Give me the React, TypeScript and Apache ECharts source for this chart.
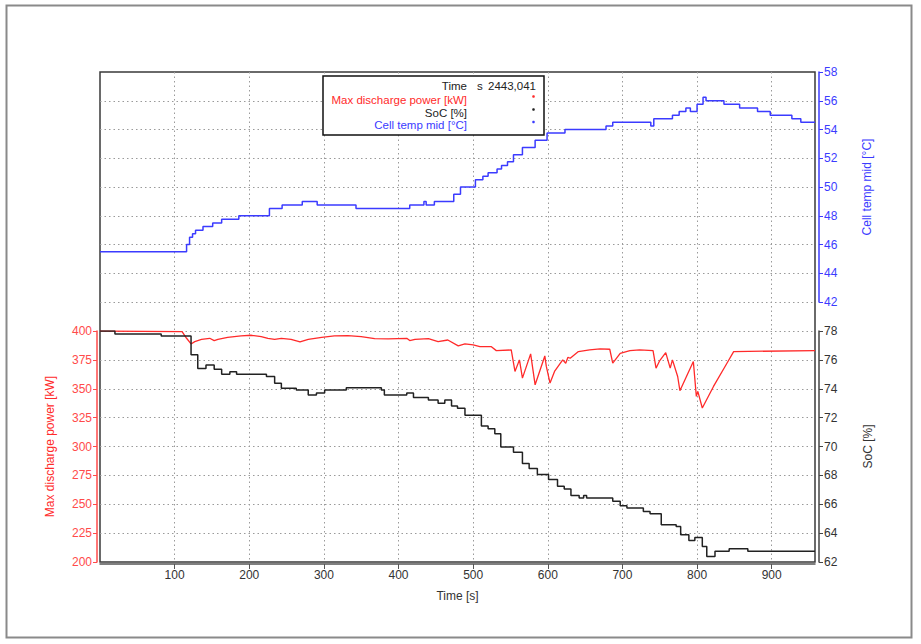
import React, { useEffect, useRef } from "react";
import * as echarts from "echarts";

// Time [s] range and ticks
const timeMin = 0;
const timeMax = 958;
const timeInterval = 100;

// Cell temp mid [°C]  (step data: value starts at t)
const tempData: [number, number][] = [
  [0, 45.5], [116, 46.0], [120, 46.5], [124, 46.75], [128, 47.0], [138, 47.25], [151, 47.5],
  [163, 47.75], [186, 48.0], [227, 48.5], [244, 48.75], [271, 49.0], [291, 48.75], [343, 48.5],
  [415, 48.75], [434, 49.0], [437, 48.75], [448, 49.0], [474, 49.5], [483, 50.0], [503, 50.5],
  [513, 50.75], [520, 51.0], [532, 51.25], [538, 51.5], [546, 51.75], [554, 52.25], [566, 52.75],
  [583, 53.25], [599, 53.75], [623, 54.0], [678, 54.25], [687, 54.5], [738, 54.25], [742, 54.75],
  [767, 55.0], [776, 55.25], [785, 55.5], [791, 55.25], [800, 55.75], [808, 56.25], [812, 56.0],
  [836, 55.75], [857, 55.5], [881, 55.25], [898, 55.0], [927, 54.75], [939, 54.5], [958, 54.5],
];

// SoC [%] (step data)
const socData: [number, number][] = [
  [0, 78.0], [20, 77.8], [82, 77.65], [122, 76.35], [131, 75.4], [142, 75.65], [153, 75.35],
  [163, 75.0], [174, 75.18], [183, 75.0], [223, 74.84], [234, 74.38], [243, 74.03], [263, 73.91],
  [279, 73.57], [290, 73.7], [301, 73.91], [330, 74.07], [377, 73.91], [381, 73.57], [411, 73.7],
  [420, 73.4], [440, 73.22], [453, 72.99], [462, 73.22], [471, 72.8], [479, 72.65], [489, 72.16],
  [511, 71.42], [520, 71.23], [529, 70.89], [537, 69.96], [554, 69.61], [566, 68.82], [575, 68.48],
  [586, 68.06], [601, 67.71], [613, 67.25], [622, 67.06], [631, 66.6], [642, 66.43], [648, 66.6],
  [652, 66.43], [687, 66.2], [697, 65.9], [706, 65.74], [728, 65.5], [737, 65.34], [752, 64.58],
  [772, 64.46], [778, 63.88], [789, 63.49], [797, 63.7], [807, 63.07], [813, 62.38], [824, 62.75],
  [843, 62.91], [868, 62.75], [958, 62.75],
];

// Max discharge power [kW]
const powerData: [number, number][] = [
  [0, 400], [110, 399.5], [116, 393.7], [122, 388.8], [127, 390.8], [136, 392.8], [147, 393.7],
  [153, 391.7], [158, 392.8], [171, 394.5], [189, 395.7], [203, 396.3], [216, 395.1], [225, 393.7],
  [234, 392.8], [243, 393.7], [256, 392.8], [268, 390.5], [279, 392.8], [297, 394.5], [314, 395.7],
  [332, 396], [350, 395.1], [368, 393.4], [386, 393.1], [411, 393.7], [415, 391.7], [422, 392.8],
  [440, 393.4], [453, 390.8], [466, 392.2], [480, 387.1], [489, 388.8], [500, 387.9], [509, 386.5],
  [524, 386.5], [531, 383], [551, 383.6], [556, 365], [562, 375], [566, 359.2], [577, 380.2],
  [583, 353.4], [596, 378.4], [598, 369.3], [603, 354.9], [609, 365], [620, 375], [624, 372.1],
  [627, 377.3], [630, 376.4], [641, 382.2], [656, 383.6], [670, 384.5], [683, 384.2], [687, 372.1],
  [697, 380.7], [710, 383], [723, 383.6], [741, 383], [745, 367.8], [750, 374.4], [758, 381.3],
  [764, 367.8], [767, 375], [774, 360.6], [777, 348.3], [795, 373.6], [799, 343.4], [801, 347.7],
  [807, 333.3], [822, 352], [840, 372.1], [849, 382.2], [958, 383],
];

// Axis ranges
const tempRange = { min: 42, max: 58, interval: 2 };
const powerRange = { min: 200, max: 400, interval: 25 };
const socRange = { min: 62, max: 78, interval: 2 };

// Legend texts
const legendTime = { label: "Time", unit: "s", value: "2443,041" };
const legendRows = [
  { text: "Max discharge power [kW]", color: "#ff2a2a" },
  { text: "SoC [%]", color: "#222222" },
  { text: "Cell temp mid [°C]", color: "#3b3bff" },
];

const RED = "#ff2a2a";
const RED_LIGHT = "#ff4a4a";
const BLUE = "#3b3bff";
const DARK = "#333333";
const FONT = "'Liberation Sans', Arial, sans-serif";

const dotted = { color: "#9a9a9a", width: 1, type: [1.5, 3] as number[] };

export default function App() {
  const ref = useRef<HTMLDivElement>(null);
  useEffect(() => {
    if (!ref.current) return;
    const chart = echarts.init(ref.current, null, { renderer: "svg" });
    const legendX = 323;
    const legendY = 76;
    const rowYs = [99.5, 112.5, 125];
    const LF = `11.5px ${FONT}`;
    const Z = 100;
    const option: any = {
      animation: false,
      backgroundColor: "#ffffff",
      textStyle: { fontFamily: FONT },
      grid: [
        { left: 100, top: 72, width: 715, height: 230 },
        { left: 100, top: 331, width: 715, height: 231 },
        {
          left: 100, top: 72, width: 715, height: 490, show: true,
          borderColor: "#3a3a3a", borderWidth: 1.5, backgroundColor: "transparent",
        },
      ],
      xAxis: [
        { type: "value", gridIndex: 0, min: timeMin, max: timeMax, interval: timeInterval, show: false },
        {
          type: "value", gridIndex: 1, min: timeMin, max: timeMax, interval: timeInterval,
          offset: 2,
          axisLine: { show: true, onZero: false, lineStyle: { color: "#555", width: 1.5 } },
          axisTick: { show: true, length: 5, lineStyle: { color: "#555" } },
          axisLabel: { color: DARK, fontSize: 12, margin: 5, showMinLabel: false, showMaxLabel: false, fontFamily: FONT },
          splitLine: { show: false },
          name: "Time [s]", nameLocation: "middle", nameGap: 26,
          nameTextStyle: { color: DARK, fontSize: 12, fontFamily: FONT },
        },
        {
          type: "value", gridIndex: 2, min: timeMin, max: timeMax, interval: timeInterval,
          axisLine: { show: false, onZero: false }, axisTick: { show: false }, axisLabel: { show: false },
          splitLine: { show: true, showMinLine: false, showMaxLine: false, lineStyle: dotted },
        },
      ],
      yAxis: [
        {
          type: "value", gridIndex: 0, position: "right", offset: 4,
          min: tempRange.min, max: tempRange.max, interval: tempRange.interval,
          axisLine: { show: true, onZero: false, lineStyle: { color: BLUE, width: 1.5 } },
          axisTick: { show: true, length: 4, lineStyle: { color: BLUE } },
          axisLabel: { color: BLUE, fontSize: 12, margin: 5, fontFamily: FONT },
          splitLine: { show: true, showMaxLine: false, lineStyle: dotted },
          name: "Cell temp mid [°C]", nameLocation: "middle", nameGap: 42,
          nameTextStyle: { color: BLUE, fontSize: 12, fontFamily: FONT },
        },
        {
          type: "value", gridIndex: 1, position: "left", offset: 3,
          min: powerRange.min, max: powerRange.max, interval: powerRange.interval,
          axisLine: { show: true, onZero: false, lineStyle: { color: RED_LIGHT, width: 1.5 } },
          axisTick: { show: true, length: 4, lineStyle: { color: RED_LIGHT } },
          axisLabel: { color: RED_LIGHT, fontSize: 12, margin: 5, fontFamily: FONT },
          splitLine: { show: true, showMinLine: false, lineStyle: dotted },
          name: "Max discharge power [kW]", nameLocation: "middle", nameGap: 41,
          nameTextStyle: { color: RED, fontSize: 12, fontFamily: FONT },
        },
        {
          type: "value", gridIndex: 1, position: "right", offset: 4,
          min: socRange.min, max: socRange.max, interval: socRange.interval,
          axisLine: { show: true, onZero: false, lineStyle: { color: "#444", width: 1.5 } },
          axisTick: { show: true, length: 4, lineStyle: { color: "#444" } },
          axisLabel: { color: DARK, fontSize: 12, margin: 5, fontFamily: FONT },
          splitLine: { show: false },
          name: "SoC [%]", nameLocation: "middle", nameGap: 43,
          nameTextStyle: { color: DARK, fontSize: 12, fontFamily: FONT },
        },
        { type: "value", gridIndex: 2, min: 0, max: 1, show: false, splitLine: { show: false } },
      ],
      series: [
        {
          type: "line", name: "Cell temp mid [°C]", xAxisIndex: 0, yAxisIndex: 0,
          data: tempData, step: "end", showSymbol: false, symbol: "none",
          lineStyle: { color: BLUE, width: 1.5 }, z: 3,
        },
        {
          type: "line", name: "Max discharge power [kW]", xAxisIndex: 1, yAxisIndex: 1,
          data: powerData, showSymbol: false, symbol: "none",
          lineStyle: { color: RED, width: 1.3 }, z: 3,
        },
        {
          type: "line", name: "SoC [%]", xAxisIndex: 1, yAxisIndex: 2,
          data: socData, step: "end", showSymbol: false, symbol: "none",
          lineStyle: { color: "#222", width: 1.5 }, z: 4,
        },
      ],
      graphic: [
        {
          type: "rect", silent: true, z: -10,
          shape: { x: 6.5, y: 5.5, width: 905, height: 632 },
          style: { fill: "none", stroke: "#8a8a8a", lineWidth: 2 },
        },
        {
          type: "rect", z: Z,
          shape: { x: legendX, y: legendY, width: 221, height: 59 },
          style: { fill: "#ffffff", stroke: "#111", lineWidth: 1.5 },
        },
        {
          type: "text", x: 467, y: 86, z: Z + 1,
          style: { text: legendTime.label, fill: "#222", font: LF, align: "right", verticalAlign: "middle" },
        },
        {
          type: "text", x: 477, y: 86, z: Z + 1,
          style: { text: legendTime.unit, fill: "#222", font: LF, align: "left", verticalAlign: "middle" },
        },
        {
          type: "text", x: 488, y: 86, z: Z + 1,
          style: { text: legendTime.value, fill: "#222", font: LF, align: "left", verticalAlign: "middle" },
        },
        ...legendRows.map((r, i) => ({
          type: "text", x: 467, y: rowYs[i], z: Z + 1,
          style: { text: r.text, fill: r.color, font: LF, align: "right", verticalAlign: "middle" },
        })),
        ...legendRows.map((r, i) => ({
          type: "circle", z: Z + 1,
          shape: { cx: 533.5, cy: rowYs[i] - 3, r: 1.3 },
          style: { fill: r.color },
        })),
      ],
    };
    chart.setOption(option);
    return () => chart.dispose();
  }, []);
  return (
    <div
      ref={ref}
      style={{ position: "fixed", left: 0, top: 0, width: 921, height: 644, background: "#fff" }}
    />
  );
}
